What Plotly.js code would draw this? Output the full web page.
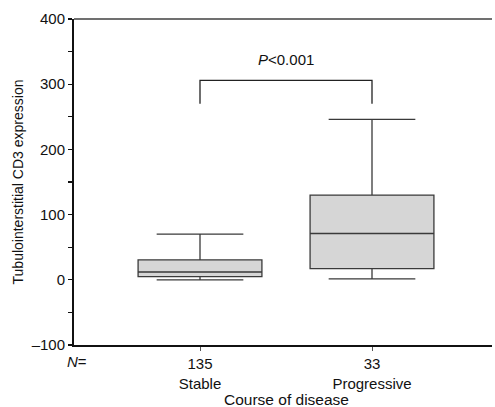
<!DOCTYPE html>
<html>
<head>
<meta charset="utf-8">
<script src="https://cdn.plot.ly/plotly-3.0.1.min.js"></script>
<style>html,body{margin:0;padding:0;background:#fff;}#chart{width:495px;height:407px;}</style>
</head>
<body>
<div id="chart"></div>
<script>
// Data
var categories = ["Stable", "Progressive"];
var nCounts = ["135", "33"];
var lowerWhisker = [0, 1.5];
var q1Values = [5, 17];
var medianValues = [12, 71];
var q3Values = [30.5, 130];
var upperWhisker = [70, 246];
var bracketY = [270, 306];
var pLabel = "<i>P</i>&lt;0.001";
var pLabelY = 338;
var yTickVals = [-100, -50, 0, 50, 100, 150, 200, 250, 300, 350, 400];
var yTickText = ["\u2013100", "", "0", "", "100", "", "200", "", "300", "", "400"];
var xTitle = "Course of disease";
var yTitle = "Tubulointerstitial CD3 expression";

var font = "Liberation Sans, Arial, Helvetica, sans-serif";
var ink = "#111";

var traces = categories.map(function (c, i) {
  return {
    type: "box",
    x: [c],
    q1: [q1Values[i]],
    median: [medianValues[i]],
    q3: [q3Values[i]],
    lowerfence: [lowerWhisker[i]],
    upperfence: [upperWhisker[i]],
    width: 0.72,
    whiskerwidth: 0.7,
    fillcolor: "#d6d6d6",
    line: { color: "#3a3a3a", width: 1.3 },
    boxpoints: false,
    hoverinfo: "skip",
    showlegend: false
  };
});

var tickText = categories.map(function (c, i) { return nCounts[i] + "<br>" + c; });

var layout = {
  width: 495,
  height: 407,
  margin: { l: 74, r: 3, t: 19, b: 62 },
  paper_bgcolor: "#fff",
  plot_bgcolor: "#fff",
  font: { family: font, size: 15, color: ink },
  showlegend: false,
  xaxis: {
    type: "category",
    range: [-0.7326, 1.6977],
    tickvals: categories,
    ticktext: tickText,
    ticks: "outside",
    ticklen: 4,
    tickwidth: 1,
    tickcolor: "#555",
    showline: true,
    linecolor: "#111",
    linewidth: 2,
    showgrid: false,
    zeroline: false,
    tickfont: { size: 15, family: font, color: ink }
  },
  yaxis: {
    range: [-100, 400],
    tickvals: yTickVals,
    ticktext: yTickText,
    ticks: "outside",
    ticklen: 4,
    tickwidth: 1.2,
    tickcolor: "#111",
    showline: true,
    linecolor: "#111",
    linewidth: 2,
    showgrid: false,
    zeroline: false,
    tickfont: { size: 15, family: font, color: ink },
    title: { text: yTitle, font: { size: 14, family: font, color: ink }, standoff: 5 }
  },
  shapes: [
    {
      type: "line", xref: "paper", yref: "paper", x0: 0, x1: 1, y0: 1, y1: 1,
      line: { color: "#707070", width: 2 }
    },
    {
      type: "path", xref: "x", yref: "y",
      path: "M 0," + bracketY[0] + " L 0," + bracketY[1] + " L 1," + bracketY[1] + " L 1," + bracketY[0],
      line: { color: "#222", width: 1.3 }
    }
  ],
  annotations: [
    {
      text: pLabel, x: 0.5, y: pLabelY, xref: "x", yref: "y",
      showarrow: false, font: { size: 15, family: font, color: ink }
    },
    {
      text: "<i>N</i>=", x: -0.0215, y: -0.052, xref: "paper", yref: "paper",
      xanchor: "left", yanchor: "middle",
      showarrow: false, font: { size: 15, family: font, color: ink }
    },
    {
      text: xTitle, x: 0.5, y: -0.168, xref: "x", yref: "paper",
      xanchor: "center", yanchor: "middle",
      showarrow: false, font: { size: 15.5, family: font, color: ink }
    }
  ]
};

Plotly.newPlot("chart", traces, layout, { displayModeBar: false, staticPlot: true });
</script>
</body>
</html>
